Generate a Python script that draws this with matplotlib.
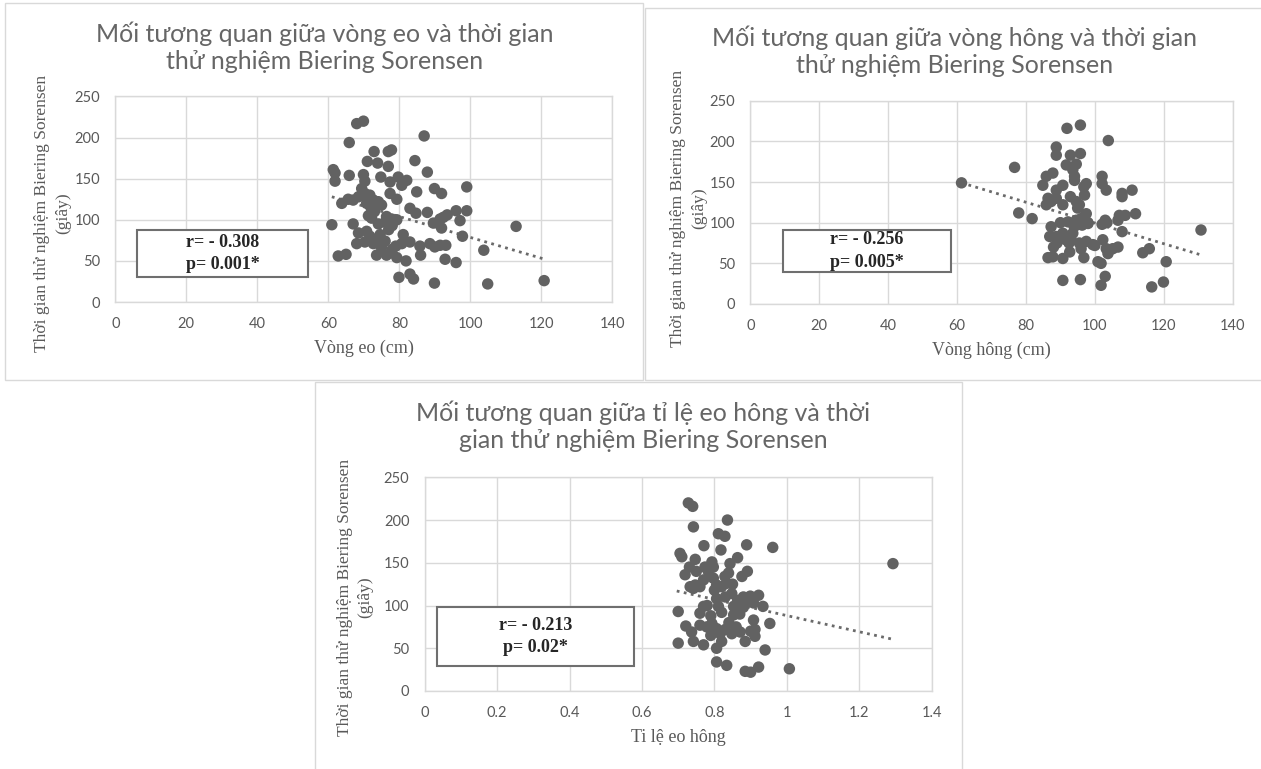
import numpy as np
import matplotlib.pyplot as plt
from matplotlib.patches import Rectangle

# Vòng eo (cm) / thời gian (giây)
waist = [68.0, 69.9, 65.9, 87, 72.9, 76.9, 77.8, 71, 73.9, 76.9, 84.4, 61.4, 61.9, 61.9,
         65.9, 69.9, 70.3, 74.8, 77.4, 79.7, 80.7, 82.1, 87.9, 84.9, 89.9, 91.9, 99, 77.4,
         79.3, 63.8, 65.6, 67, 68.5, 69.4, 70.3, 71.7, 72.7, 74.1, 70.8, 83, 84.7, 87.9,
         96, 99, 92.4, 93.5, 91.5, 97.1, 61, 67, 71.3, 72.2, 74.1, 76.4, 77.8, 79.3, 89.6,
         91.9, 97.8, 112.9, 68.5, 70.8, 71.7, 74.6, 68, 70.3, 72.7, 81.1, 80.7, 83, 85.8,
         88.6, 90, 91.5, 93.1, 103.8, 62.8, 65, 73.6, 76.4, 77.8, 79.3, 86, 81.9, 92.9, 96,
         79.9, 83, 84, 89.9, 104.9, 120.8, 72, 73, 75, 76, 78, 77, 72, 74, 78, 79, 76, 75]
time1 = [217, 220, 194, 202, 183, 183, 185, 171, 169, 165, 172, 161, 157, 147,
         154, 155, 147, 152, 146, 152, 142, 148, 158, 134, 138, 132, 140, 132,
         125, 120, 125, 124, 128, 138, 132, 130, 124, 122, 120, 114, 108, 109,
         111, 111, 103, 106, 101, 99, 94, 95, 105, 102, 95, 104, 101, 100, 96,
         90, 80, 92, 84, 86, 80, 82, 71, 73, 71, 82, 71, 73, 68,
         71, 67, 69, 69, 63, 56, 58, 57, 57, 60, 54, 57, 50, 52, 48,
         30, 34, 28, 23, 22, 26, 115, 110, 118, 97, 93, 88, 76, 73, 64, 68, 74, 66]

# Vòng hông (cm) / thời gian (giây)
hip = [61.3, 76.7, 77.9, 81.8, 91.9, 95.8, 103.9, 88.8, 88.8, 92.9, 95.8, 91.7, 94.6, 93.6,
       85.9, 87.8, 84.9, 88.8, 90.7, 94.1, 94.1, 97.5, 96.8, 97, 102.1, 102.1, 103.3, 107.9,
       107.9, 110.8, 86.4, 87.3, 88.8, 85.9, 90.7, 92.9, 94.6, 95, 95.5, 97.5, 97, 94.6,
       92.2, 96.3, 98, 102.1, 103.5, 103, 107.1, 108.8, 111.8, 106.7, 107.9, 87.3, 86.9,
       88.8, 90.7, 93.6, 91.6, 92.5, 95.5, 97.5, 99.4, 102.3, 103.3, 105.2, 106.7, 86.4,
       87.8, 90.7, 92.7, 96.8, 100.9, 101.8, 103.8, 113.9, 115.8, 120.7, 130.8, 90.7, 95.8,
       103, 101.8, 116.5, 119.9, 89, 88, 94, 96, 98, 100, 96, 90, 93]
time2 = [149, 168, 112, 105, 216, 220, 201, 193, 183, 183, 185, 171, 172, 165,
         157, 161, 146, 140, 146, 157, 152, 148, 144, 134, 157, 148, 140, 136,
         132, 140, 130, 126, 130, 122, 122, 132, 126, 118, 122, 111, 103, 103,
         101, 97, 99, 98, 100, 103, 109, 109, 111, 103, 89, 95, 83,
         83, 87, 87, 79, 75, 75, 77, 73, 79, 68, 68, 70, 57,
         58, 56, 64, 57, 52, 50, 62, 63, 68, 52, 91, 29, 30,
         34, 23, 21, 27, 75, 70, 95, 105, 100, 72, 68, 100, 80]

# Tỉ lệ eo hông / thời gian (giây)
whr = [0.728, 0.740, 0.742, 0.836, 0.811, 0.829, 0.771, 0.818, 0.889, 0.961, 0.705, 0.710,
       0.747, 0.731, 0.719, 0.774, 0.793, 0.783, 0.797, 0.843, 0.864, 0.839, 0.876, 0.891,
       1.293, 0.733, 0.747, 0.760, 0.742, 0.797, 0.806, 0.820, 0.834, 0.829, 0.848, 0.864,
       0.880, 0.899, 0.922, 0.934, 0.806, 0.811, 0.770, 0.760, 0.700, 0.853, 0.866, 0.853,
       0.908, 0.908, 0.721, 0.737, 0.742, 0.770, 0.760, 0.779, 0.793, 0.806, 0.816, 0.820,
       0.806, 0.848, 0.871, 0.885, 0.912, 0.912, 0.953, 0.700, 0.940, 0.806, 0.834, 0.885,
       0.900, 0.922, 1.007, 0.78, 0.79, 0.82, 0.84, 0.86, 0.89, 0.88, 0.83, 0.80, 0.77,
       0.75, 0.85, 0.87, 0.90, 0.79, 0.83]
time3 = [220, 216, 192, 200, 184, 181, 170, 165, 171, 168, 161, 157,
         154, 145, 136, 145, 151, 140, 145, 149, 156, 138, 134, 140,
         149, 122, 124, 122, 120, 132, 124, 122, 126, 134, 114, 106,
         110, 111, 112, 99, 108, 99, 99, 91, 93, 99, 99, 89,
         103, 83, 76, 69, 58, 54, 77, 75, 79, 73, 67, 58,
         50, 67, 69, 58, 72, 64, 79, 56, 48, 34, 30, 23,
         22, 28, 26, 100, 88, 92, 80, 75, 105, 98, 110, 118, 130,
         140, 125, 90, 70, 65, 72]

# đường xu hướng
trend1_x, trend1_y = [61, 121], [128, 52]
trend2_x, trend2_y = [61.3, 130.3], [149, 61]
trend3_x, trend3_y = [0.696, 1.298], [117, 60]

titles = ["Mối tương quan giữa vòng eo và thời gian\nthử nghiệm Biering Sorensen",
          "Mối tương quan giữa vòng hông và thời gian\nthử nghiệm Biering Sorensen",
          "Mối tương quan giữa tỉ lệ eo hông và thời\ngian thử nghiệm Biering Sorensen"]
xlabels = ["Vòng eo (cm)", "Vòng hông (cm)", "Ti lệ eo hông"]
ylabel = "Thời gian thử nghiệm Biering Sorensen\n(giây)"
stats = ["r= - 0.308\np= 0.001*", "r= - 0.256\np= 0.005*", "r= - 0.213\np= 0.02*"]

SANS = ['Lato', 'Noto Sans', 'DejaVu Sans']
SERIF = ['Liberation Serif', 'DejaVu Serif']
GRAY = '#595959'
GRID = '#d9d9d9'
DOT = '#626262'

W, H = 1261, 769
fig = plt.figure(figsize=(W / 100, H / 100), dpi=100)


def fx(px):
    return px / W


def fy(py):
    return 1 - py / H


# khung các hình
for x0, y0, x1, y1 in [(5, 3, 643, 380), (645, 8, 1265, 380), (315, 382, 962, 772)]:
    fig.patches.append(Rectangle((fx(x0), fy(y1)), fx(x1 - x0), (y1 - y0) / H,
                                 transform=fig.transFigure, fill=False,
                                 edgecolor=GRID, lw=1))

axes_px = [(115.3, 96.5, 612.3, 302), (750.3, 100.7, 1232.7, 304), (424.7, 477.3, 931.7, 691)]
title_pos = [(325, 47), (955, 51), (643, 426)]
ylab_pos = [(52.5, 213), (688.5, 208), (355, 597)]
xlab_pos = [(364, 348), (991, 350), (678, 738)]
box_px = [(137, 230, 308, 277), (783, 230, 951, 272), (437, 607, 634, 666)]

datasets = [(waist, time1, trend1_x, trend1_y), (hip, time2, trend2_x, trend2_y),
            (whr, time3, trend3_x, trend3_y)]
xlims = [(0, 140, 20), (0, 140, 20), (0, 1.4, 0.2)]

for i in range(3):
    x0, y0, x1, y1 = axes_px[i]
    ax = fig.add_axes([fx(x0), fy(y1), fx(x1 - x0), (y1 - y0) / H])
    xs, ys, tx, ty = datasets[i]
    ax.scatter(xs, ys, s=68, color=DOT, edgecolors='none', zorder=3)
    ax.plot(tx, ty, linestyle=(0, (1, 1.6)), lw=2, color='#6a6a6a', zorder=2)

    lo, hi, step = xlims[i]
    ax.set_xlim(lo, hi)
    ax.set_ylim(0, 250)
    xt = np.round(np.arange(lo, hi + step / 2, step), 1)
    ax.set_xticks(xt)
    if i == 2:
        ax.set_xticklabels(['0' if v == 0 else ('1' if v == 1 else f'{v:g}') for v in xt])
    ax.set_yticks(np.arange(0, 251, 50))
    ax.grid(True, color=GRID, lw=1)
    ax.set_axisbelow(True)
    for sp in ax.spines.values():
        sp.set_color(GRID)
        sp.set_linewidth(1)
    ax.tick_params(length=0, pad=11, labelsize=10.5, labelcolor=GRAY)
    for lab in ax.get_xticklabels() + ax.get_yticklabels():
        lab.set_family(SANS)

    tx_, ty_ = title_pos[i]
    fig.text(fx(tx_), fy(ty_), titles[i], ha='center', va='center', fontsize=18,
             color='#666666', family=SANS, linespacing=1.2)
    lx, ly = ylab_pos[i]
    fig.text(fx(lx), fy(ly), ylabel, ha='center', va='center', rotation=90,
             fontsize=12.5, color=GRAY, family=SERIF, linespacing=1.4)
    xx, xy = xlab_pos[i]
    fig.text(fx(xx), fy(xy), xlabels[i], ha='center', va='center', fontsize=13,
             color=GRAY, family=SERIF)

    bx0, by0, bx1, by1 = box_px[i]
    fig.patches.append(Rectangle((fx(bx0), fy(by1)), fx(bx1 - bx0), (by1 - by0) / H,
                                 transform=fig.transFigure, facecolor='white',
                                 edgecolor='#6f6f6f', lw=1.5, zorder=5))
    fig.text(fx((bx0 + bx1) / 2), fy((by0 + by1) / 2), stats[i], ha='center',
             va='center', fontsize=13, fontweight='bold', color='#262626',
             family=SERIF, linespacing=1.45, zorder=6)

fig.savefig('out.png', dpi=100, facecolor='white')
